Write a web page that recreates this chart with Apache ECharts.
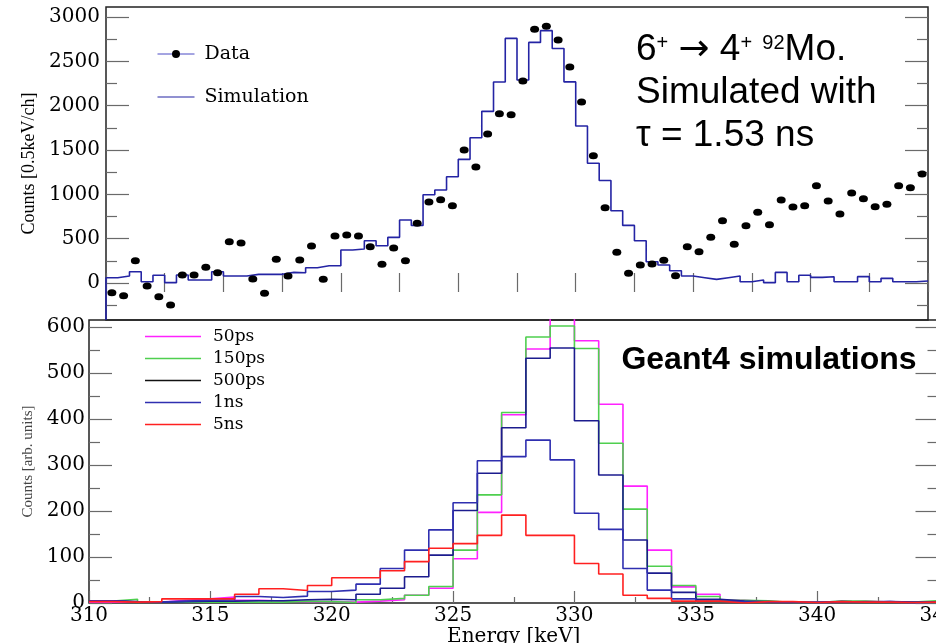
<!DOCTYPE html>
<html><head><meta charset="utf-8">
<script src="https://cdn.jsdelivr.net/npm/echarts@6/dist/echarts.min.js"></script>
<style>html,body{margin:0;padding:0;background:#fff}#c{width:936px;height:643px}</style>
</head><body><div id="c"></div>
<script>
// ---- data ----
const energyStart = 310;
const energyEnd = 345;
const topBinWidth = 0.5;   // keV per channel (upper panel)
const botBinWidth = 1;     // keV per bin (lower panel)

const dataCounts = [-109,-143,252,-34,-154,-248,90,90,177,116,466,451,45,-116,267,79,259,417,42,530,541,530,410,211,395,252,673,913,940,872,1500,1308,1680,1910,1898,2278,2861,2895,2740,2436,2041,1436,849,346,109,203,214,256,83,410,353,515,703,436,647,797,658,936,857,872,1097,925,778,1015,951,861,888,1097,1075,1229];
const simCounts = [60,79,128,15,87,4,90,34,34,128,79,79,98,98,98,120,116,173,195,195,372,383,477,421,515,710,650,996,1049,1199,1395,1639,1936,2267,2759,2289,2714,2846,2645,2268,1771,1350,1156,815,650,477,240,203,139,79,60,41,60,79,15,34,4,120,15,87,64,71,15,15,72,15,53,15,15,23];

const sim50ps  = [2,2,2,6,9,13,6,4,3,3,2,4,7,17,32,96,197,409,552,650,570,432,254,115,35,19,6,3,2,1,2,4,2,1,2];
const sim150ps = [4,8,2,2,2,2,2,2,4,3,1,7,10,17,36,115,235,414,578,602,553,347,204,80,38,14,6,5,1,1,4,4,2,2,5];
const sim500ps = [5,3,2,3,4,4,5,5,7,8,7,19,32,57,104,201,282,381,532,554,396,278,137,65,23,8,4,3,2,1,3,2,3,2,2];
const sim1ns   = [5,2,2,4,6,7,14,12,15,25,28,41,75,115,159,218,309,318,354,311,195,160,75,28,9,4,3,2,1,2,3,2,3,1,2];
const sim5ns   = [3,2,3,9,9,9,19,31,27,38,55,55,70,90,119,129,147,191,147,147,86,63,17,10,4,4,0,3,3,1,3,2,2,1,2];

const topYLabels = [0,500,1000,1500,2000,2500,3000];
const topYMinor  = [-250,250,750,1250,1750,2250,2750];
const botYLabels = [0,100,200,300,400,500,600];
const botYMinor  = [50,150,250,350,450,550];
const topYMin = -417, topYMax = 3113;
const botYMin = 0, botYMax = 615;

// ---- helpers ----
function stepData(values, x0, w, lead) {
  const pts = [];
  if (lead !== undefined) pts.push([x0, lead]);
  values.forEach((v, i) => pts.push([x0 + i * w, v]));
  pts.push([x0 + values.length * w, values[values.length - 1]]);
  return pts;
}
const serif = 'DejaVu Serif';
const tickColor = '#6a6a6a';
const frame = '#222';
const plain = v => String(v);
const lineIcon = 'path://M0,0H100V3H0Z';

function yAxisSet(grid, min, max, major, minor, labelMargin, name, nameGap, nameStyle) {
  const base = {gridIndex: grid, type: 'value', min: min, max: max,
    axisLine: {show: false}, splitLine: {show: false}};
  return [
    Object.assign({}, base, {position: 'left',
      axisLabel: {customValues: major, formatter: plain, fontFamily: serif, fontSize: 20, color: '#000', margin: labelMargin},
      axisTick: {customValues: major, inside: true, length: 23, lineStyle: {color: tickColor, width: 1.2}},
      name: name, nameLocation: 'middle', nameRotate: 90, nameGap: nameGap, nameTextStyle: nameStyle}),
    Object.assign({}, base, {position: 'left', axisLabel: {show: false},
      axisTick: {customValues: minor, inside: true, length: 11, lineStyle: {color: tickColor, width: 1.2}}}),
    Object.assign({}, base, {position: 'right', axisLabel: {show: false},
      axisTick: {customValues: major, inside: true, length: 23, lineStyle: {color: tickColor, width: 1.2}}}),
    Object.assign({}, base, {position: 'right', axisLabel: {show: false},
      axisTick: {customValues: minor, inside: true, length: 11, lineStyle: {color: tickColor, width: 1.2}}})
  ];
}

const chart = echarts.init(document.getElementById('c'), null, {renderer: 'canvas'});

const botSeriesDef = [
  {name: '50ps',  values: sim50ps,  color: '#ff22ff'},
  {name: '150ps', values: sim150ps, color: '#4fcf4f'},
  {name: '500ps', values: sim500ps, color: '#1c1c8e'},
  {name: '1ns',   values: sim1ns,   color: '#2f2fb0'},
  {name: '5ns',   values: sim5ns,   color: '#ff2020'}
];

const option = {
  backgroundColor: '#fff',
  animation: false,
  grid: [
    {left: 106, top: 7, width: 822, height: 313, show: true, borderColor: frame, borderWidth: 1.5,
     backgroundColor: 'transparent', outerBoundsMode: 'none', containLabel: false},
    {left: 89, top: 320, width: 849.5, height: 283, show: true, borderColor: frame, borderWidth: 1.5,
     backgroundColor: 'transparent', outerBoundsMode: 'none', containLabel: false}
  ],
  xAxis: [
    {gridIndex: 0, type: 'value', min: energyStart, max: energyEnd, interval: 2.5, position: 'bottom',
     axisLine: {show: false}, splitLine: {show: false}, axisLabel: {show: false},
     axisTick: {inside: true, length: 10, lineStyle: {color: tickColor, width: 1.2}}},
    {gridIndex: 0, type: 'value', min: energyStart, max: energyEnd, interval: 2.5, position: 'top',
     axisLine: {show: false}, splitLine: {show: false}, axisLabel: {show: false},
     axisTick: {inside: true, length: 9, lineStyle: {color: tickColor, width: 1.2}}},
    {gridIndex: 1, type: 'value', min: energyStart, max: energyEnd, interval: 5, position: 'bottom',
     axisLine: {show: false}, splitLine: {show: false},
     axisLabel: {formatter: plain, fontFamily: serif, fontSize: 20, color: '#000', margin: 3,
       showMinLabel: true, showMaxLabel: true},
     axisTick: {inside: true, length: 12, lineStyle: {color: tickColor, width: 1.2}},
     minorTick: {show: true, splitNumber: 2, length: 6, lineStyle: {color: tickColor, width: 1.2}},
     name: 'Energy [keV]', nameLocation: 'middle', nameGap: 18,
     nameTextStyle: {fontFamily: serif, fontSize: 20, color: '#000'}}
  ],
  yAxis: [].concat(
    yAxisSet(0, topYMin, topYMax, topYLabels, topYMinor, 6, 'Counts [0.5keV/ch]', 62,
      {fontFamily: 'Liberation Serif', fontSize: 18, color: '#000'}),
    yAxisSet(1, botYMin, botYMax, botYLabels, botYMinor, 4, 'Counts [arb. units]', 48,
      {fontFamily: 'Liberation Serif', fontSize: 15, color: '#444'})
  ),
  legend: [
    {orient: 'vertical', left: 157, top: 44.5, padding: 0, itemWidth: 37, itemHeight: 10, itemGap: 24,
     textStyle: {fontFamily: serif, fontSize: 19, color: '#000', padding: [0, 0, 0, 5]},
     selectedMode: false,
     data: [{name: 'Data', lineStyle: {color: '#4a4ac4', width: 1, opacity: 1}},
            {name: 'Simulation', icon: lineIcon}]},
    {orient: 'vertical', left: 145, top: 328, padding: 0, itemWidth: 56, itemHeight: 10, itemGap: 5,
     textStyle: {fontFamily: serif, fontSize: 17, color: '#000', padding: [0, 0, 0, 7]},
     selectedMode: false,
     data: botSeriesDef.map(d => d.name === '500ps'
       ? {name: d.name, icon: lineIcon, itemStyle: {color: '#111'}}
       : {name: d.name, icon: lineIcon})}
  ],
  series: [
    {name: 'Simulation', type: 'line', xAxisIndex: 0, yAxisIndex: 0, step: 'end', symbol: 'none',
     data: stepData(simCounts, energyStart, topBinWidth, topYMin),
     lineStyle: {color: '#2424a4', width: 1.6}, itemStyle: {color: '#2424a4'}, z: 2},
    {name: 'Data', type: 'line', xAxisIndex: 0, yAxisIndex: 0, symbol: 'circle', symbolSize: [9, 7],
     showSymbol: true, showAllSymbol: true,
     data: dataCounts.map((v, i) => [energyStart + (i + 0.5) * topBinWidth, v]),
     lineStyle: {width: 0, opacity: 0}, itemStyle: {color: '#000'}, z: 3}
  ].concat(botSeriesDef.map(d => ({
    name: d.name, type: 'line', xAxisIndex: 2, yAxisIndex: 4, step: 'end', symbol: 'none',
    data: stepData(d.values, energyStart, botBinWidth),
    lineStyle: {color: d.color, width: 1.6}, itemStyle: {color: d.color}
  }))),
  graphic: [
    {type: 'text', x: 636, y: 50, style: {
      text: '{n|6}{s|+}{n| }{a|→}{n| 4}{s|+}{n| }{s|92}{n|Mo.}', verticalAlign: 'middle', align: 'left',
      rich: {
        n: {fontFamily: 'Liberation Sans', fontSize: 37, lineHeight: 43, fill: '#000'},
        a: {fontFamily: 'DejaVu Sans', fontSize: 37, lineHeight: 43, fill: '#000'},
        s: {fontFamily: 'Liberation Sans', fontSize: 20, lineHeight: 20, verticalAlign: 'top', padding: [5, 0, 0, 0], fill: '#000'}
      }}},
    {type: 'text', x: 636, y: 93, style: {text: 'Simulated with', fontFamily: 'Liberation Sans', fontSize: 37,
      verticalAlign: 'middle', align: 'left', fill: '#000'}},
    {type: 'text', x: 636, y: 136, style: {text: 'τ = 1.53 ns', fontFamily: 'Liberation Sans', fontSize: 37,
      verticalAlign: 'middle', align: 'left', fill: '#000'}},
    {type: 'text', x: 769, y: 360, style: {text: 'Geant4 simulations', fontFamily: 'Liberation Sans', fontWeight: 'bold',
      fontSize: 32, verticalAlign: 'middle', align: 'center', fill: '#000'}}
  ]
};
chart.setOption(option);
</script></body></html>
